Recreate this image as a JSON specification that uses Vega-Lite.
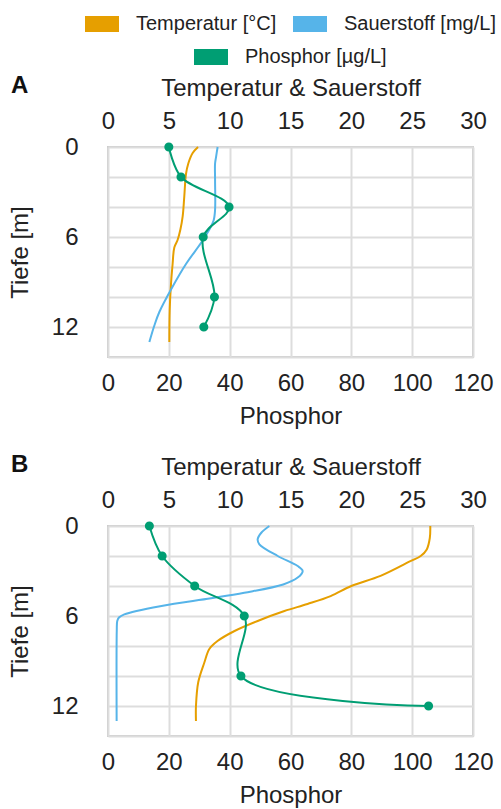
{
  "$schema": "https://vega.github.io/schema/vega-lite/v6.json",
  "padding": {"left": 7, "top": 7, "right": 8, "bottom": 2},
  "datasets": {
    "profiles": [
      {"panel": "A", "var": "Temperatur [°C]", "depth": 0, "value": 7.4},
      {"panel": "A", "var": "Temperatur [°C]", "depth": 0.4, "value": 6.96},
      {"panel": "A", "var": "Temperatur [°C]", "depth": 1.1, "value": 6.6},
      {"panel": "A", "var": "Temperatur [°C]", "depth": 1.8, "value": 6.41},
      {"panel": "A", "var": "Temperatur [°C]", "depth": 3.3, "value": 6.27},
      {"panel": "A", "var": "Temperatur [°C]", "depth": 4.6, "value": 6.14},
      {"panel": "A", "var": "Temperatur [°C]", "depth": 5.5, "value": 5.95},
      {"panel": "A", "var": "Temperatur [°C]", "depth": 6.2, "value": 5.72},
      {"panel": "A", "var": "Temperatur [°C]", "depth": 6.7, "value": 5.45},
      {"panel": "A", "var": "Temperatur [°C]", "depth": 7.8, "value": 5.31},
      {"panel": "A", "var": "Temperatur [°C]", "depth": 9.1, "value": 5.18},
      {"panel": "A", "var": "Temperatur [°C]", "depth": 10.9, "value": 5.07},
      {"panel": "A", "var": "Temperatur [°C]", "depth": 13, "value": 5.04},
      {"panel": "A", "var": "Sauerstoff [mg/L]", "depth": 0, "value": 9.01},
      {"panel": "A", "var": "Sauerstoff [mg/L]", "depth": 0.67, "value": 8.88},
      {"panel": "A", "var": "Sauerstoff [mg/L]", "depth": 1.1, "value": 8.8},
      {"panel": "A", "var": "Sauerstoff [mg/L]", "depth": 2.2, "value": 8.8},
      {"panel": "A", "var": "Sauerstoff [mg/L]", "depth": 4.2, "value": 8.8},
      {"panel": "A", "var": "Sauerstoff [mg/L]", "depth": 4.9, "value": 8.68},
      {"panel": "A", "var": "Sauerstoff [mg/L]", "depth": 5.5, "value": 8.33},
      {"panel": "A", "var": "Sauerstoff [mg/L]", "depth": 6.4, "value": 7.64},
      {"panel": "A", "var": "Sauerstoff [mg/L]", "depth": 7.8, "value": 6.41},
      {"panel": "A", "var": "Sauerstoff [mg/L]", "depth": 9.5, "value": 5.18},
      {"panel": "A", "var": "Sauerstoff [mg/L]", "depth": 11, "value": 4.22},
      {"panel": "A", "var": "Sauerstoff [mg/L]", "depth": 11.9, "value": 3.81},
      {"panel": "A", "var": "Sauerstoff [mg/L]", "depth": 13, "value": 3.4},
      {"panel": "B", "var": "Temperatur [°C]", "depth": 0, "value": 26.49},
      {"panel": "B", "var": "Temperatur [°C]", "depth": 0.8, "value": 26.45},
      {"panel": "B", "var": "Temperatur [°C]", "depth": 1.56, "value": 26.2},
      {"panel": "B", "var": "Temperatur [°C]", "depth": 2.0, "value": 25.7},
      {"panel": "B", "var": "Temperatur [°C]", "depth": 2.33, "value": 24.9},
      {"panel": "B", "var": "Temperatur [°C]", "depth": 3.33, "value": 22.4},
      {"panel": "B", "var": "Temperatur [°C]", "depth": 4.0, "value": 20.0},
      {"panel": "B", "var": "Temperatur [°C]", "depth": 4.67, "value": 18.3},
      {"panel": "B", "var": "Temperatur [°C]", "depth": 5.2, "value": 16.4},
      {"panel": "B", "var": "Temperatur [°C]", "depth": 5.67, "value": 14.5},
      {"panel": "B", "var": "Temperatur [°C]", "depth": 6.33, "value": 12.3},
      {"panel": "B", "var": "Temperatur [°C]", "depth": 7.0, "value": 10.4},
      {"panel": "B", "var": "Temperatur [°C]", "depth": 7.67, "value": 9.0},
      {"panel": "B", "var": "Temperatur [°C]", "depth": 8.2, "value": 8.33},
      {"panel": "B", "var": "Temperatur [°C]", "depth": 9.1, "value": 7.92},
      {"panel": "B", "var": "Temperatur [°C]", "depth": 10.4, "value": 7.42},
      {"panel": "B", "var": "Temperatur [°C]", "depth": 12, "value": 7.23},
      {"panel": "B", "var": "Temperatur [°C]", "depth": 13, "value": 7.23},
      {"panel": "B", "var": "Sauerstoff [mg/L]", "depth": 0, "value": 13.26},
      {"panel": "B", "var": "Sauerstoff [mg/L]", "depth": 0.45, "value": 12.6},
      {"panel": "B", "var": "Sauerstoff [mg/L]", "depth": 0.89, "value": 12.3},
      {"panel": "B", "var": "Sauerstoff [mg/L]", "depth": 1.22, "value": 12.44},
      {"panel": "B", "var": "Sauerstoff [mg/L]", "depth": 2.0, "value": 13.95},
      {"panel": "B", "var": "Sauerstoff [mg/L]", "depth": 2.67, "value": 15.59},
      {"panel": "B", "var": "Sauerstoff [mg/L]", "depth": 3.0, "value": 16.0},
      {"panel": "B", "var": "Sauerstoff [mg/L]", "depth": 3.44, "value": 15.59},
      {"panel": "B", "var": "Sauerstoff [mg/L]", "depth": 3.9, "value": 14.4},
      {"panel": "B", "var": "Sauerstoff [mg/L]", "depth": 4.45, "value": 11.2},
      {"panel": "B", "var": "Sauerstoff [mg/L]", "depth": 4.82, "value": 8.47},
      {"panel": "B", "var": "Sauerstoff [mg/L]", "depth": 5.33, "value": 4.4},
      {"panel": "B", "var": "Sauerstoff [mg/L]", "depth": 5.89, "value": 1.34},
      {"panel": "B", "var": "Sauerstoff [mg/L]", "depth": 6.1, "value": 0.9},
      {"panel": "B", "var": "Sauerstoff [mg/L]", "depth": 6.33, "value": 0.76},
      {"panel": "B", "var": "Sauerstoff [mg/L]", "depth": 7.0, "value": 0.72},
      {"panel": "B", "var": "Sauerstoff [mg/L]", "depth": 13, "value": 0.71}
    ],
    "phosphor": [
      {"panel": "A", "var": "Phosphor [µg/L]", "depth": 0, "value": 20},
      {"panel": "A", "var": "Phosphor [µg/L]", "depth": 2, "value": 24},
      {"panel": "A", "var": "Phosphor [µg/L]", "depth": 4, "value": 39.8},
      {"panel": "A", "var": "Phosphor [µg/L]", "depth": 6, "value": 31.3},
      {"panel": "A", "var": "Phosphor [µg/L]", "depth": 10, "value": 35},
      {"panel": "A", "var": "Phosphor [µg/L]", "depth": 12, "value": 31.5},
      {"panel": "B", "var": "Phosphor [µg/L]", "depth": 0, "value": 13.6},
      {"panel": "B", "var": "Phosphor [µg/L]", "depth": 2, "value": 17.8},
      {"panel": "B", "var": "Phosphor [µg/L]", "depth": 4, "value": 28.5},
      {"panel": "B", "var": "Phosphor [µg/L]", "depth": 6, "value": 44.8},
      {"panel": "B", "var": "Phosphor [µg/L]", "depth": 10, "value": 43.7},
      {"panel": "B", "var": "Phosphor [µg/L]", "depth": 12, "value": 105.4}
    ]
  },
  "spacing": 23,
  "vconcat": [
    {
      "title": {"text": "A", "anchor": "start", "frame": "group", "dx": -97, "dy": 26},
      "width": 365,
      "height": 210,
      "encoding": {
        "y": {"field": "depth", "type": "quantitative",
          "scale": {"domain": [0, 14], "reverse": true, "nice": false, "zero": false},
          "axis": {"title": "Tiefe [m]", "values": [0, 2, 4, 6, 8, 10, 12, 14], "labelExpr": "datum.value % 6 === 0 ? datum.label : ''", "labelPadding": 30, "titlePadding": 19}}
      },
      "layer": [
        {
          "data": {"name": "profiles"},
          "transform": [{"filter": "datum.panel === 'A'"}],
          "mark": {"type": "line", "interpolate": "catmull-rom", "strokeWidth": 2},
          "encoding": {
            "x": {"field": "value", "type": "quantitative", "scale": {"domain": [0, 30], "nice": false},
              "axis": {"orient": "top", "title": "Temperatur & Sauerstoff", "values": [0, 5, 10, 15, 20, 25, 30]}},
            "color": {"field": "var", "type": "nominal",
              "scale": {"domain": ["Temperatur [°C]", "Sauerstoff [mg/L]"], "range": ["#E69F00", "#56B4E9"]},
              "legend": {"title": null, "encode": {"symbols": {"update": {"fill": {"scale": "color", "field": "value"}, "strokeWidth": {"value": 0}}}}}},
            "order": {"field": "depth", "type": "quantitative"}
          }
        },
        {
          "data": {"name": "phosphor"},
          "transform": [{"filter": "datum.panel === 'A'"}],
          "encoding": {
            "x": {"field": "value", "type": "quantitative", "scale": {"domain": [0, 120], "nice": false},
              "axis": {"orient": "bottom", "title": "Phosphor", "values": [0, 20, 40, 60, 80, 100, 120], "grid": false}},
            "stroke": {"field": "var", "type": "nominal",
              "scale": {"domain": ["Phosphor [µg/L]"], "range": ["#009E73"]},
              "legend": {"title": null, "encode": {"symbols": {"update": {"fill": {"scale": "stroke", "field": "value"}, "strokeWidth": {"value": 0}}}}}}
          },
          "layer": [
            {"mark": {"type": "line", "interpolate": "catmull-rom", "strokeWidth": 2},
             "encoding": {"order": {"field": "depth", "type": "quantitative"}}},
            {"mark": {"type": "point", "filled": true, "size": 50, "opacity": 1, "color": "#009E73"}}
          ]
        }
      ],
      "resolve": {"scale": {"x": "independent"}, "axis": {"x": "independent"}}
    },
    {
      "title": {"text": "B", "anchor": "start", "frame": "group", "dx": -97, "dy": 26},
      "width": 365,
      "height": 210,
      "encoding": {
        "y": {"field": "depth", "type": "quantitative",
          "scale": {"domain": [0, 14], "reverse": true, "nice": false, "zero": false},
          "axis": {"title": "Tiefe [m]", "values": [0, 2, 4, 6, 8, 10, 12, 14], "labelExpr": "datum.value % 6 === 0 ? datum.label : ''", "labelPadding": 30, "titlePadding": 19}}
      },
      "layer": [
        {
          "data": {"name": "profiles"},
          "transform": [{"filter": "datum.panel === 'B'"}],
          "mark": {"type": "line", "interpolate": "catmull-rom", "strokeWidth": 2},
          "encoding": {
            "x": {"field": "value", "type": "quantitative", "scale": {"domain": [0, 30], "nice": false},
              "axis": {"orient": "top", "title": "Temperatur & Sauerstoff", "values": [0, 5, 10, 15, 20, 25, 30]}},
            "color": {"field": "var", "type": "nominal"},
            "order": {"field": "depth", "type": "quantitative"}
          }
        },
        {
          "data": {"name": "phosphor"},
          "transform": [{"filter": "datum.panel === 'B'"}],
          "encoding": {
            "x": {"field": "value", "type": "quantitative", "scale": {"domain": [0, 120], "nice": false},
              "axis": {"orient": "bottom", "title": "Phosphor", "values": [0, 20, 40, 60, 80, 100, 120], "grid": false}},
            "stroke": {"field": "var", "type": "nominal"}
          },
          "layer": [
            {"mark": {"type": "line", "interpolate": "catmull-rom", "strokeWidth": 2},
             "encoding": {"order": {"field": "depth", "type": "quantitative"}}},
            {"mark": {"type": "point", "filled": true, "size": 50, "opacity": 1, "color": "#009E73"}}
          ]
        }
      ],
      "resolve": {"scale": {"x": "independent"}, "axis": {"x": "independent"}}
    }
  ],
  "config": {
    "font": "Liberation Sans",
    "view": {"stroke": "#cccccc", "strokeWidth": 2},
    "axis": {
      "labelFont": "Liberation Sans", "labelFontSize": 24, "labelColor": "#222222",
      "titleFont": "Liberation Sans", "titleFontSize": 24, "titleFontWeight": "normal", "titleColor": "#222222",
      "domain": false, "ticks": false, "gridColor": "#dddddd", "gridWidth": 2,
      "labelFlush": false, "labelOverlap": false, "labelPadding": 14, "titlePadding": 9
    },
    "title": {"font": "Liberation Sans", "fontSize": 24, "fontWeight": "bold", "color": "#111111"},
    "legend": {
      "orient": "top", "direction": "horizontal",
      "symbolType": "M-1,-0.47H1V0.47H-1Z", "symbolSize": 1156,
      "labelFont": "Liberation Sans", "labelFontSize": 20, "labelColor": "#222222",
      "labelOffset": 17, "columnPadding": 16, "padding": 0, "offset": 6,
      "layout": {"top": {"anchor": "middle", "direction": "vertical", "center": true, "margin": 6}}
    }
  }
}
